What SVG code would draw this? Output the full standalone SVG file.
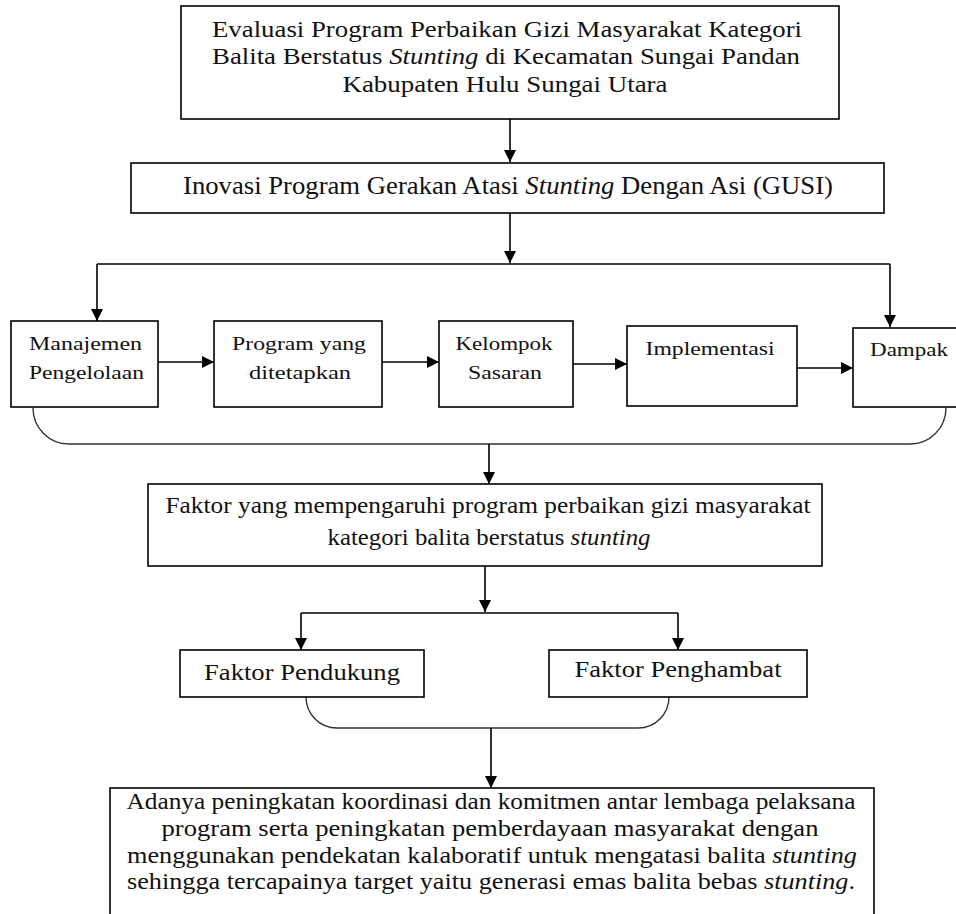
<svg xmlns="http://www.w3.org/2000/svg" width="956" height="914" viewBox="0 0 956 914">
<style>
.box{fill:#fff;stroke:#000;stroke-width:1.6}
.ln{fill:none;stroke:#000;stroke-width:1.6}
.cv{fill:none;stroke:#333;stroke-width:1.4}
text{font-family:'Liberation Serif',Times,serif;fill:#111;text-anchor:middle}
.t1{font-size:24px}
.t2{font-size:25px}
.ts{font-size:19px}
.t3{font-size:23px}
</style>
<defs>
<marker id="ah" markerWidth="12" markerHeight="12" viewBox="0 0 12 12" refX="12" refY="6" orient="auto" markerUnits="userSpaceOnUse">
<path d="M0,0 L12,6 L0,12 Z" fill="#000"/>
</marker>
</defs>
<rect width="956" height="914" fill="#fff"/>
<g id="connectors">
<line class="ln" x1="510" y1="119" x2="510" y2="162" marker-end="url(#ah)"/>
<line class="ln" x1="510" y1="213" x2="510" y2="263" marker-end="url(#ah)"/>
<polyline class="ln" points="97,264 890,264"/>
<line class="ln" x1="97" y1="264" x2="97" y2="321" marker-end="url(#ah)"/>
<line class="ln" x1="890" y1="264" x2="890" y2="327" marker-end="url(#ah)"/>
<line class="ln" x1="158" y1="362" x2="214" y2="362" marker-end="url(#ah)"/>
<line class="ln" x1="382" y1="362" x2="439" y2="362" marker-end="url(#ah)"/>
<line class="ln" x1="573" y1="364" x2="627" y2="364" marker-end="url(#ah)"/>
<line class="ln" x1="797" y1="368" x2="853" y2="368" marker-end="url(#ah)"/>
<path class="cv" d="M33,408 A36,36 0 0 0 69,444 L910,444 A36,36 0 0 0 946,408"/>
<line class="ln" x1="489" y1="444" x2="489" y2="484" marker-end="url(#ah)"/>
<line class="ln" x1="485" y1="566" x2="485" y2="612" marker-end="url(#ah)"/>
<polyline class="ln" points="301,613 678,613"/>
<line class="ln" x1="301" y1="613" x2="301" y2="650" marker-end="url(#ah)"/>
<line class="ln" x1="678" y1="613" x2="678" y2="650" marker-end="url(#ah)"/>
<path class="cv" d="M306,697 A31,31 0 0 0 337,728 L638,728 A31,31 0 0 0 669,697"/>
<line class="ln" x1="491" y1="728" x2="491" y2="788" marker-end="url(#ah)"/>
</g>
<g id="n1">
<rect class="box" x="181" y="6" width="658" height="113"/>
<text class="t1" x="507" y="37" textLength="590" lengthAdjust="spacingAndGlyphs">Evaluasi Program Perbaikan Gizi Masyarakat Kategori</text>
<text class="t1" x="506" y="64" textLength="588" lengthAdjust="spacingAndGlyphs">Balita Berstatus <tspan font-style="italic">Stunting</tspan> di Kecamatan Sungai Pandan</text>
<text class="t1" x="505" y="92" textLength="325" lengthAdjust="spacingAndGlyphs">Kabupaten Hulu Sungai Utara</text>
</g>
<g id="n2">
<rect class="box" x="131" y="163" width="753" height="50"/>
<text class="t2" x="508" y="194" textLength="650" lengthAdjust="spacingAndGlyphs">Inovasi Program Gerakan Atasi <tspan font-style="italic">Stunting</tspan> Dengan Asi (GUSI)</text>
</g>
<g id="n3">
<rect class="box" x="11" y="321" width="147" height="86"/>
<text class="ts" x="85.5" y="350" textLength="113" lengthAdjust="spacingAndGlyphs">Manajemen</text>
<text class="ts" x="86.5" y="379" textLength="115" lengthAdjust="spacingAndGlyphs">Pengelolaan</text>
</g>
<g id="n4">
<rect class="box" x="214" y="321" width="168" height="86"/>
<text class="ts" x="299" y="350" textLength="134" lengthAdjust="spacingAndGlyphs">Program yang</text>
<text class="ts" x="300" y="379" textLength="102" lengthAdjust="spacingAndGlyphs">ditetapkan</text>
</g>
<g id="n5">
<rect class="box" x="439" y="321" width="134" height="86"/>
<text class="ts" x="504" y="350" textLength="97" lengthAdjust="spacingAndGlyphs">Kelompok</text>
<text class="ts" x="505" y="379" textLength="74" lengthAdjust="spacingAndGlyphs">Sasaran</text>
</g>
<g id="n6">
<rect class="box" x="627" y="326" width="170" height="80"/>
<text class="ts" x="710" y="355" textLength="129" lengthAdjust="spacingAndGlyphs">Implementasi</text>
</g>
<g id="n7">
<rect class="box" x="853" y="328" width="110" height="79"/>
<text class="ts" x="909" y="356" textLength="78" lengthAdjust="spacingAndGlyphs">Dampak</text>
</g>
<g id="n8">
<rect class="box" x="148" y="484" width="674" height="82"/>
<text class="t3" x="488" y="513" textLength="645" lengthAdjust="spacingAndGlyphs">Faktor yang mempengaruhi program perbaikan gizi masyarakat</text>
<text class="t3" x="489" y="545" textLength="323" lengthAdjust="spacingAndGlyphs">kategori balita berstatus <tspan font-style="italic">stunting</tspan></text>
</g>
<g id="n9">
<rect class="box" x="180" y="650" width="244" height="47"/>
<text class="t3" x="302" y="680" textLength="196" lengthAdjust="spacingAndGlyphs">Faktor Pendukung</text>
</g>
<g id="n10">
<rect class="box" x="549" y="650" width="258" height="47"/>
<text class="t3" x="678" y="677" textLength="207" lengthAdjust="spacingAndGlyphs">Faktor Penghambat</text>
</g>
<g id="n11">
<rect class="box" x="110" y="788" width="764" height="140"/>
<text class="t3" x="491" y="809" textLength="729" lengthAdjust="spacingAndGlyphs">Adanya peningkatan koordinasi dan komitmen antar lembaga pelaksana</text>
<text class="t3" x="490" y="836" textLength="657" lengthAdjust="spacingAndGlyphs">program serta peningkatan pemberdayaan masyarakat dengan</text>
<text class="t3" x="492" y="863" textLength="730" lengthAdjust="spacingAndGlyphs">menggunakan pendekatan kalaboratif untuk mengatasi balita <tspan font-style="italic">stunting</tspan></text>
<text class="t3" x="491" y="889" textLength="728" lengthAdjust="spacingAndGlyphs">sehingga tercapainya target yaitu generasi emas balita bebas <tspan font-style="italic">stunting</tspan>.</text>
</g>
</svg>
